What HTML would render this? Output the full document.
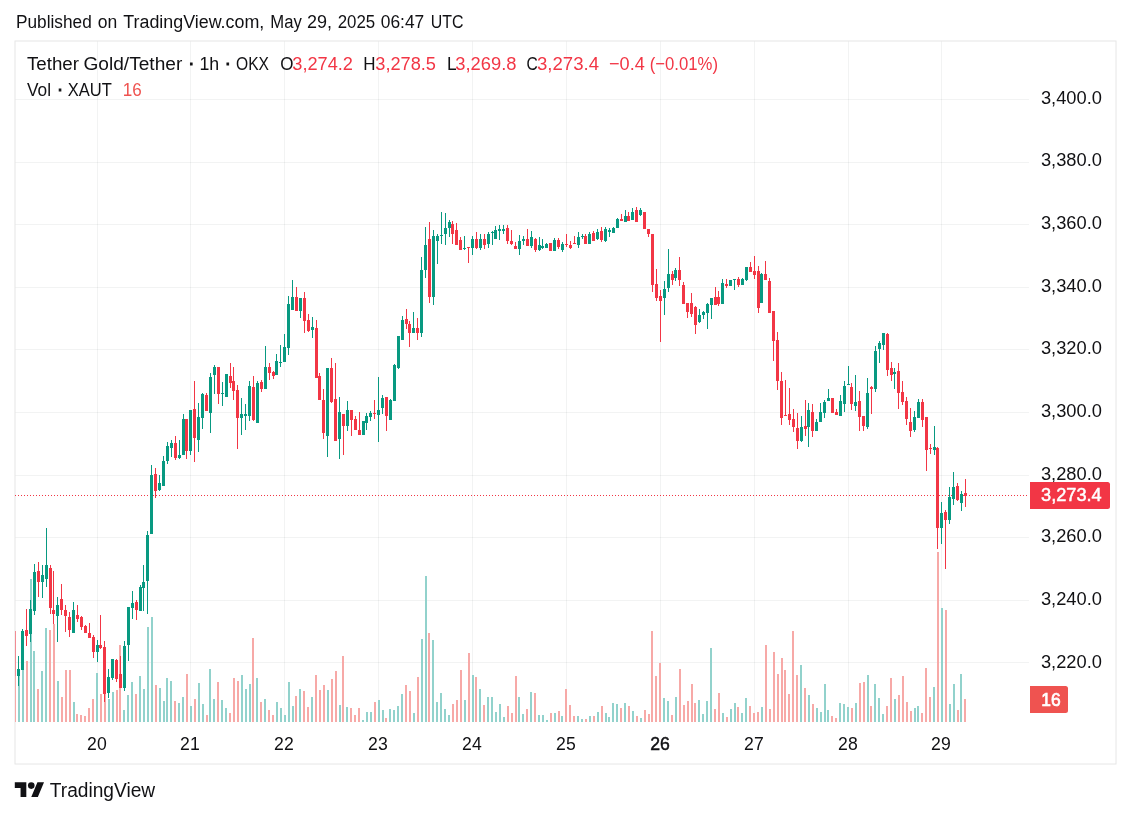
<!DOCTYPE html>
<html lang="en"><head><meta charset="utf-8"><title>XAUTUSDT chart</title>
<style>html,body{margin:0;padding:0;background:#fff}body{width:1131px;height:817px;overflow:hidden}svg{display:block}text{font-family:"Liberation Sans",sans-serif;font-size:18.3px;fill:#111114}.d{stroke:#111114;stroke-width:0.9px}.r{fill:#f23645}.v{fill:#ef5350}.w{fill:#fff;stroke:#fff;stroke-width:0.5px}.b{stroke:#111114;stroke-width:0.5px}.wb{fill:#fff;stroke:#fff;stroke-width:0.7px}</style></head><body>
<svg width="1131" height="817" viewBox="0 0 1131 817">
<rect width="1131" height="817" fill="#fff"/>
<g shape-rendering="crispEdges">
<rect x="15" y="99" width="1014" height="1" fill="#2a2e39" fill-opacity="0.06"/>
<rect x="15" y="162" width="1014" height="1" fill="#2a2e39" fill-opacity="0.06"/>
<rect x="15" y="224" width="1014" height="1" fill="#2a2e39" fill-opacity="0.06"/>
<rect x="15" y="287" width="1014" height="1" fill="#2a2e39" fill-opacity="0.06"/>
<rect x="15" y="349" width="1014" height="1" fill="#2a2e39" fill-opacity="0.06"/>
<rect x="15" y="412" width="1014" height="1" fill="#2a2e39" fill-opacity="0.06"/>
<rect x="15" y="475" width="1014" height="1" fill="#2a2e39" fill-opacity="0.06"/>
<rect x="15" y="537" width="1014" height="1" fill="#2a2e39" fill-opacity="0.06"/>
<rect x="15" y="600" width="1014" height="1" fill="#2a2e39" fill-opacity="0.06"/>
<rect x="15" y="662" width="1014" height="1" fill="#2a2e39" fill-opacity="0.06"/>
<rect x="97" y="41" width="1" height="681" fill="#2a2e39" fill-opacity="0.06"/>
<rect x="190" y="41" width="1" height="681" fill="#2a2e39" fill-opacity="0.06"/>
<rect x="284" y="41" width="1" height="681" fill="#2a2e39" fill-opacity="0.06"/>
<rect x="378" y="41" width="1" height="681" fill="#2a2e39" fill-opacity="0.06"/>
<rect x="472" y="41" width="1" height="681" fill="#2a2e39" fill-opacity="0.06"/>
<rect x="566" y="41" width="1" height="681" fill="#2a2e39" fill-opacity="0.06"/>
<rect x="660" y="41" width="1" height="681" fill="#2a2e39" fill-opacity="0.06"/>
<rect x="754" y="41" width="1" height="681" fill="#2a2e39" fill-opacity="0.06"/>
<rect x="848" y="41" width="1" height="681" fill="#2a2e39" fill-opacity="0.06"/>
<rect x="941" y="41" width="1" height="681" fill="#2a2e39" fill-opacity="0.06"/>
</g><rect x="15" y="41" width="1101" height="723" fill="none" stroke="#e6e6e6" stroke-width="1"/><g shape-rendering="crispEdges">
<g>
<rect x="15" y="631" width="1" height="91" fill="#f7a9a7"/>
<rect x="18" y="672" width="2" height="50" fill="#92d2cc"/>
<rect x="22" y="640" width="2" height="82" fill="#92d2cc"/>
<rect x="26" y="661" width="2" height="61" fill="#f7a9a7"/>
<rect x="30" y="579" width="2" height="143" fill="#92d2cc"/>
<rect x="33" y="651" width="2" height="71" fill="#92d2cc"/>
<rect x="37" y="689" width="2" height="33" fill="#f7a9a7"/>
<rect x="41" y="671" width="2" height="51" fill="#92d2cc"/>
<rect x="45" y="628" width="2" height="94" fill="#92d2cc"/>
<rect x="49" y="630" width="2" height="92" fill="#f7a9a7"/>
<rect x="53" y="624" width="2" height="98" fill="#f7a9a7"/>
<rect x="57" y="681" width="2" height="41" fill="#92d2cc"/>
<rect x="61" y="697" width="2" height="25" fill="#f7a9a7"/>
<rect x="65" y="670" width="2" height="52" fill="#f7a9a7"/>
<rect x="69" y="670" width="2" height="52" fill="#f7a9a7"/>
<rect x="73" y="702" width="2" height="20" fill="#92d2cc"/>
<rect x="76" y="714" width="2" height="8" fill="#f7a9a7"/>
<rect x="80" y="715" width="2" height="7" fill="#f7a9a7"/>
<rect x="84" y="716" width="2" height="6" fill="#f7a9a7"/>
<rect x="88" y="708" width="2" height="14" fill="#f7a9a7"/>
<rect x="92" y="699" width="2" height="23" fill="#f7a9a7"/>
<rect x="96" y="673" width="2" height="49" fill="#92d2cc"/>
<rect x="100" y="694" width="2" height="28" fill="#f7a9a7"/>
<rect x="104" y="690" width="2" height="32" fill="#f7a9a7"/>
<rect x="108" y="699" width="2" height="23" fill="#92d2cc"/>
<rect x="112" y="692" width="2" height="30" fill="#92d2cc"/>
<rect x="116" y="690" width="2" height="32" fill="#f7a9a7"/>
<rect x="119" y="645" width="2" height="77" fill="#f7a9a7"/>
<rect x="123" y="710" width="2" height="12" fill="#92d2cc"/>
<rect x="127" y="695" width="2" height="27" fill="#92d2cc"/>
<rect x="131" y="682" width="2" height="40" fill="#92d2cc"/>
<rect x="135" y="694" width="2" height="28" fill="#f7a9a7"/>
<rect x="139" y="676" width="2" height="46" fill="#92d2cc"/>
<rect x="143" y="689" width="2" height="33" fill="#92d2cc"/>
<rect x="147" y="627" width="2" height="95" fill="#92d2cc"/>
<rect x="151" y="617" width="2" height="105" fill="#92d2cc"/>
<rect x="155" y="685" width="2" height="37" fill="#f7a9a7"/>
<rect x="159" y="688" width="2" height="34" fill="#92d2cc"/>
<rect x="163" y="701" width="2" height="21" fill="#92d2cc"/>
<rect x="166" y="678" width="2" height="44" fill="#92d2cc"/>
<rect x="170" y="681" width="2" height="41" fill="#92d2cc"/>
<rect x="174" y="701" width="2" height="21" fill="#f7a9a7"/>
<rect x="178" y="703" width="2" height="19" fill="#92d2cc"/>
<rect x="182" y="697" width="2" height="25" fill="#92d2cc"/>
<rect x="186" y="674" width="2" height="48" fill="#f7a9a7"/>
<rect x="190" y="706" width="2" height="16" fill="#92d2cc"/>
<rect x="194" y="699" width="2" height="23" fill="#f7a9a7"/>
<rect x="198" y="683" width="2" height="39" fill="#92d2cc"/>
<rect x="202" y="704" width="2" height="18" fill="#92d2cc"/>
<rect x="206" y="715" width="2" height="7" fill="#f7a9a7"/>
<rect x="209" y="669" width="2" height="53" fill="#92d2cc"/>
<rect x="213" y="699" width="2" height="23" fill="#92d2cc"/>
<rect x="217" y="682" width="2" height="40" fill="#f7a9a7"/>
<rect x="221" y="700" width="2" height="22" fill="#92d2cc"/>
<rect x="225" y="708" width="2" height="14" fill="#92d2cc"/>
<rect x="229" y="713" width="2" height="9" fill="#f7a9a7"/>
<rect x="233" y="678" width="2" height="44" fill="#f7a9a7"/>
<rect x="237" y="681" width="2" height="41" fill="#f7a9a7"/>
<rect x="241" y="675" width="2" height="47" fill="#92d2cc"/>
<rect x="245" y="689" width="2" height="33" fill="#92d2cc"/>
<rect x="249" y="684" width="2" height="38" fill="#92d2cc"/>
<rect x="252" y="638" width="2" height="84" fill="#f7a9a7"/>
<rect x="256" y="678" width="2" height="44" fill="#92d2cc"/>
<rect x="260" y="702" width="2" height="20" fill="#f7a9a7"/>
<rect x="264" y="699" width="2" height="23" fill="#92d2cc"/>
<rect x="268" y="710" width="2" height="12" fill="#f7a9a7"/>
<rect x="272" y="715" width="2" height="7" fill="#f7a9a7"/>
<rect x="276" y="702" width="2" height="20" fill="#92d2cc"/>
<rect x="280" y="708" width="2" height="14" fill="#92d2cc"/>
<rect x="284" y="715" width="2" height="7" fill="#92d2cc"/>
<rect x="288" y="682" width="2" height="40" fill="#92d2cc"/>
<rect x="292" y="706" width="2" height="16" fill="#92d2cc"/>
<rect x="295" y="696" width="2" height="26" fill="#f7a9a7"/>
<rect x="299" y="689" width="2" height="33" fill="#92d2cc"/>
<rect x="303" y="691" width="2" height="31" fill="#f7a9a7"/>
<rect x="307" y="707" width="2" height="15" fill="#f7a9a7"/>
<rect x="311" y="697" width="2" height="25" fill="#92d2cc"/>
<rect x="315" y="675" width="2" height="47" fill="#f7a9a7"/>
<rect x="319" y="690" width="2" height="32" fill="#f7a9a7"/>
<rect x="323" y="685" width="2" height="37" fill="#f7a9a7"/>
<rect x="327" y="690" width="2" height="32" fill="#92d2cc"/>
<rect x="331" y="679" width="2" height="43" fill="#f7a9a7"/>
<rect x="335" y="671" width="2" height="51" fill="#f7a9a7"/>
<rect x="339" y="705" width="2" height="17" fill="#92d2cc"/>
<rect x="342" y="656" width="2" height="66" fill="#f7a9a7"/>
<rect x="346" y="707" width="2" height="15" fill="#92d2cc"/>
<rect x="350" y="708" width="2" height="14" fill="#f7a9a7"/>
<rect x="354" y="715" width="2" height="7" fill="#f7a9a7"/>
<rect x="358" y="708" width="2" height="14" fill="#f7a9a7"/>
<rect x="362" y="720" width="2" height="2" fill="#92d2cc"/>
<rect x="366" y="712" width="2" height="10" fill="#92d2cc"/>
<rect x="370" y="712" width="2" height="10" fill="#92d2cc"/>
<rect x="374" y="702" width="2" height="20" fill="#f7a9a7"/>
<rect x="378" y="700" width="2" height="22" fill="#92d2cc"/>
<rect x="382" y="710" width="2" height="12" fill="#92d2cc"/>
<rect x="385" y="718" width="2" height="4" fill="#f7a9a7"/>
<rect x="389" y="709" width="2" height="13" fill="#92d2cc"/>
<rect x="393" y="710" width="2" height="12" fill="#92d2cc"/>
<rect x="397" y="706" width="2" height="16" fill="#92d2cc"/>
<rect x="401" y="694" width="2" height="28" fill="#92d2cc"/>
<rect x="405" y="685" width="2" height="37" fill="#f7a9a7"/>
<rect x="409" y="691" width="2" height="31" fill="#f7a9a7"/>
<rect x="413" y="713" width="2" height="9" fill="#92d2cc"/>
<rect x="417" y="677" width="2" height="45" fill="#f7a9a7"/>
<rect x="421" y="639" width="2" height="83" fill="#92d2cc"/>
<rect x="425" y="576" width="2" height="146" fill="#92d2cc"/>
<rect x="428" y="633" width="2" height="89" fill="#f7a9a7"/>
<rect x="432" y="640" width="2" height="82" fill="#92d2cc"/>
<rect x="436" y="702" width="2" height="20" fill="#92d2cc"/>
<rect x="440" y="693" width="2" height="29" fill="#92d2cc"/>
<rect x="444" y="709" width="2" height="13" fill="#92d2cc"/>
<rect x="448" y="715" width="2" height="7" fill="#92d2cc"/>
<rect x="452" y="704" width="2" height="18" fill="#f7a9a7"/>
<rect x="456" y="700" width="2" height="22" fill="#f7a9a7"/>
<rect x="460" y="670" width="2" height="52" fill="#f7a9a7"/>
<rect x="464" y="700" width="2" height="22" fill="#92d2cc"/>
<rect x="468" y="653" width="2" height="69" fill="#f7a9a7"/>
<rect x="472" y="675" width="2" height="47" fill="#92d2cc"/>
<rect x="475" y="677" width="2" height="45" fill="#f7a9a7"/>
<rect x="479" y="689" width="2" height="33" fill="#92d2cc"/>
<rect x="483" y="705" width="2" height="17" fill="#f7a9a7"/>
<rect x="487" y="697" width="2" height="25" fill="#92d2cc"/>
<rect x="491" y="697" width="2" height="25" fill="#92d2cc"/>
<rect x="495" y="712" width="2" height="10" fill="#92d2cc"/>
<rect x="499" y="704" width="2" height="18" fill="#92d2cc"/>
<rect x="503" y="717" width="2" height="5" fill="#92d2cc"/>
<rect x="507" y="706" width="2" height="16" fill="#f7a9a7"/>
<rect x="511" y="713" width="2" height="9" fill="#f7a9a7"/>
<rect x="515" y="676" width="2" height="46" fill="#f7a9a7"/>
<rect x="518" y="697" width="2" height="25" fill="#92d2cc"/>
<rect x="522" y="714" width="2" height="8" fill="#92d2cc"/>
<rect x="526" y="709" width="2" height="13" fill="#f7a9a7"/>
<rect x="530" y="692" width="2" height="30" fill="#92d2cc"/>
<rect x="534" y="693" width="2" height="29" fill="#f7a9a7"/>
<rect x="538" y="715" width="2" height="7" fill="#92d2cc"/>
<rect x="542" y="715" width="2" height="7" fill="#92d2cc"/>
<rect x="546" y="720" width="2" height="2" fill="#92d2cc"/>
<rect x="550" y="713" width="2" height="9" fill="#f7a9a7"/>
<rect x="554" y="713" width="2" height="9" fill="#92d2cc"/>
<rect x="558" y="711" width="2" height="11" fill="#f7a9a7"/>
<rect x="561" y="716" width="2" height="6" fill="#92d2cc"/>
<rect x="565" y="689" width="2" height="33" fill="#f7a9a7"/>
<rect x="569" y="705" width="2" height="17" fill="#f7a9a7"/>
<rect x="573" y="716" width="2" height="6" fill="#f7a9a7"/>
<rect x="577" y="716" width="2" height="6" fill="#92d2cc"/>
<rect x="581" y="719" width="2" height="3" fill="#92d2cc"/>
<rect x="585" y="719" width="2" height="3" fill="#f7a9a7"/>
<rect x="589" y="716" width="2" height="6" fill="#92d2cc"/>
<rect x="593" y="716" width="2" height="6" fill="#f7a9a7"/>
<rect x="597" y="712" width="2" height="10" fill="#92d2cc"/>
<rect x="601" y="706" width="2" height="16" fill="#f7a9a7"/>
<rect x="605" y="713" width="2" height="9" fill="#92d2cc"/>
<rect x="608" y="717" width="2" height="5" fill="#92d2cc"/>
<rect x="612" y="703" width="2" height="19" fill="#92d2cc"/>
<rect x="616" y="704" width="2" height="18" fill="#92d2cc"/>
<rect x="620" y="708" width="2" height="14" fill="#f7a9a7"/>
<rect x="624" y="703" width="2" height="19" fill="#92d2cc"/>
<rect x="628" y="706" width="2" height="16" fill="#f7a9a7"/>
<rect x="632" y="711" width="2" height="11" fill="#92d2cc"/>
<rect x="636" y="716" width="2" height="6" fill="#f7a9a7"/>
<rect x="640" y="718" width="2" height="4" fill="#92d2cc"/>
<rect x="644" y="710" width="2" height="12" fill="#f7a9a7"/>
<rect x="648" y="714" width="2" height="8" fill="#f7a9a7"/>
<rect x="651" y="631" width="2" height="91" fill="#f7a9a7"/>
<rect x="655" y="676" width="2" height="46" fill="#f7a9a7"/>
<rect x="659" y="663" width="2" height="59" fill="#f7a9a7"/>
<rect x="663" y="698" width="2" height="24" fill="#92d2cc"/>
<rect x="667" y="701" width="2" height="21" fill="#92d2cc"/>
<rect x="671" y="715" width="2" height="7" fill="#f7a9a7"/>
<rect x="675" y="697" width="2" height="25" fill="#92d2cc"/>
<rect x="679" y="669" width="2" height="53" fill="#f7a9a7"/>
<rect x="683" y="705" width="2" height="17" fill="#f7a9a7"/>
<rect x="687" y="701" width="2" height="21" fill="#f7a9a7"/>
<rect x="691" y="684" width="2" height="38" fill="#f7a9a7"/>
<rect x="694" y="703" width="2" height="19" fill="#f7a9a7"/>
<rect x="698" y="700" width="2" height="22" fill="#92d2cc"/>
<rect x="702" y="714" width="2" height="8" fill="#92d2cc"/>
<rect x="706" y="701" width="2" height="21" fill="#92d2cc"/>
<rect x="710" y="648" width="2" height="74" fill="#92d2cc"/>
<rect x="714" y="709" width="2" height="13" fill="#f7a9a7"/>
<rect x="718" y="693" width="2" height="29" fill="#f7a9a7"/>
<rect x="722" y="713" width="2" height="9" fill="#92d2cc"/>
<rect x="726" y="717" width="2" height="5" fill="#f7a9a7"/>
<rect x="730" y="709" width="2" height="13" fill="#92d2cc"/>
<rect x="734" y="703" width="2" height="19" fill="#92d2cc"/>
<rect x="737" y="707" width="2" height="15" fill="#f7a9a7"/>
<rect x="741" y="713" width="2" height="9" fill="#92d2cc"/>
<rect x="745" y="698" width="2" height="24" fill="#92d2cc"/>
<rect x="749" y="706" width="2" height="16" fill="#f7a9a7"/>
<rect x="753" y="713" width="2" height="9" fill="#f7a9a7"/>
<rect x="757" y="712" width="2" height="10" fill="#f7a9a7"/>
<rect x="761" y="707" width="2" height="15" fill="#92d2cc"/>
<rect x="765" y="645" width="2" height="77" fill="#f7a9a7"/>
<rect x="769" y="709" width="2" height="13" fill="#f7a9a7"/>
<rect x="773" y="652" width="2" height="70" fill="#f7a9a7"/>
<rect x="777" y="674" width="2" height="48" fill="#f7a9a7"/>
<rect x="781" y="658" width="2" height="64" fill="#f7a9a7"/>
<rect x="784" y="670" width="2" height="52" fill="#f7a9a7"/>
<rect x="788" y="694" width="2" height="28" fill="#f7a9a7"/>
<rect x="792" y="631" width="2" height="91" fill="#f7a9a7"/>
<rect x="796" y="675" width="2" height="47" fill="#f7a9a7"/>
<rect x="800" y="665" width="2" height="57" fill="#92d2cc"/>
<rect x="804" y="688" width="2" height="34" fill="#f7a9a7"/>
<rect x="808" y="695" width="2" height="27" fill="#92d2cc"/>
<rect x="812" y="704" width="2" height="18" fill="#f7a9a7"/>
<rect x="816" y="708" width="2" height="14" fill="#92d2cc"/>
<rect x="820" y="712" width="2" height="10" fill="#92d2cc"/>
<rect x="824" y="684" width="2" height="38" fill="#92d2cc"/>
<rect x="827" y="710" width="2" height="12" fill="#92d2cc"/>
<rect x="831" y="716" width="2" height="6" fill="#f7a9a7"/>
<rect x="835" y="718" width="2" height="4" fill="#f7a9a7"/>
<rect x="839" y="703" width="2" height="19" fill="#92d2cc"/>
<rect x="843" y="704" width="2" height="18" fill="#92d2cc"/>
<rect x="847" y="707" width="2" height="15" fill="#92d2cc"/>
<rect x="851" y="708" width="2" height="14" fill="#f7a9a7"/>
<rect x="855" y="703" width="2" height="19" fill="#92d2cc"/>
<rect x="859" y="683" width="2" height="39" fill="#f7a9a7"/>
<rect x="863" y="682" width="2" height="40" fill="#f7a9a7"/>
<rect x="867" y="675" width="2" height="47" fill="#92d2cc"/>
<rect x="870" y="706" width="2" height="16" fill="#f7a9a7"/>
<rect x="874" y="684" width="2" height="38" fill="#92d2cc"/>
<rect x="878" y="698" width="2" height="24" fill="#92d2cc"/>
<rect x="882" y="714" width="2" height="8" fill="#92d2cc"/>
<rect x="886" y="706" width="2" height="16" fill="#f7a9a7"/>
<rect x="890" y="678" width="2" height="44" fill="#f7a9a7"/>
<rect x="894" y="699" width="2" height="23" fill="#92d2cc"/>
<rect x="898" y="695" width="2" height="27" fill="#f7a9a7"/>
<rect x="902" y="676" width="2" height="46" fill="#f7a9a7"/>
<rect x="906" y="702" width="2" height="20" fill="#f7a9a7"/>
<rect x="910" y="711" width="2" height="11" fill="#f7a9a7"/>
<rect x="914" y="708" width="2" height="14" fill="#92d2cc"/>
<rect x="917" y="706" width="2" height="16" fill="#92d2cc"/>
<rect x="921" y="713" width="2" height="9" fill="#f7a9a7"/>
<rect x="925" y="668" width="2" height="54" fill="#f7a9a7"/>
<rect x="929" y="697" width="2" height="25" fill="#f7a9a7"/>
<rect x="933" y="687" width="2" height="35" fill="#92d2cc"/>
<rect x="937" y="552" width="2" height="170" fill="#f7a9a7"/>
<rect x="941" y="608" width="2" height="114" fill="#92d2cc"/>
<rect x="945" y="610" width="2" height="112" fill="#f7a9a7"/>
<rect x="949" y="704" width="2" height="18" fill="#92d2cc"/>
<rect x="953" y="684" width="2" height="38" fill="#92d2cc"/>
<rect x="957" y="710" width="2" height="12" fill="#f7a9a7"/>
<rect x="960" y="674" width="2" height="48" fill="#92d2cc"/>
<rect x="964" y="699" width="2" height="23" fill="#f7a9a7"/>
</g>
<rect x="15" y="631" width="1" height="45" fill="#f28b93"/>
<g fill="#f23645"><rect x="15" y="495" width="1" height="1"/><rect x="18" y="495" width="1" height="1"/><rect x="21" y="495" width="1" height="1"/><rect x="24" y="495" width="1" height="1"/><rect x="27" y="495" width="1" height="1"/><rect x="30" y="495" width="1" height="1"/><rect x="33" y="495" width="1" height="1"/><rect x="36" y="495" width="1" height="1"/><rect x="39" y="495" width="1" height="1"/><rect x="42" y="495" width="1" height="1"/><rect x="45" y="495" width="1" height="1"/><rect x="48" y="495" width="1" height="1"/><rect x="51" y="495" width="1" height="1"/><rect x="54" y="495" width="1" height="1"/><rect x="57" y="495" width="1" height="1"/><rect x="60" y="495" width="1" height="1"/><rect x="63" y="495" width="1" height="1"/><rect x="66" y="495" width="1" height="1"/><rect x="69" y="495" width="1" height="1"/><rect x="72" y="495" width="1" height="1"/><rect x="75" y="495" width="1" height="1"/><rect x="78" y="495" width="1" height="1"/><rect x="81" y="495" width="1" height="1"/><rect x="84" y="495" width="1" height="1"/><rect x="87" y="495" width="1" height="1"/><rect x="90" y="495" width="1" height="1"/><rect x="93" y="495" width="1" height="1"/><rect x="96" y="495" width="1" height="1"/><rect x="99" y="495" width="1" height="1"/><rect x="102" y="495" width="1" height="1"/><rect x="105" y="495" width="1" height="1"/><rect x="108" y="495" width="1" height="1"/><rect x="111" y="495" width="1" height="1"/><rect x="114" y="495" width="1" height="1"/><rect x="117" y="495" width="1" height="1"/><rect x="120" y="495" width="1" height="1"/><rect x="123" y="495" width="1" height="1"/><rect x="126" y="495" width="1" height="1"/><rect x="129" y="495" width="1" height="1"/><rect x="132" y="495" width="1" height="1"/><rect x="135" y="495" width="1" height="1"/><rect x="138" y="495" width="1" height="1"/><rect x="141" y="495" width="1" height="1"/><rect x="144" y="495" width="1" height="1"/><rect x="147" y="495" width="1" height="1"/><rect x="150" y="495" width="1" height="1"/><rect x="153" y="495" width="1" height="1"/><rect x="156" y="495" width="1" height="1"/><rect x="159" y="495" width="1" height="1"/><rect x="162" y="495" width="1" height="1"/><rect x="165" y="495" width="1" height="1"/><rect x="168" y="495" width="1" height="1"/><rect x="171" y="495" width="1" height="1"/><rect x="174" y="495" width="1" height="1"/><rect x="177" y="495" width="1" height="1"/><rect x="180" y="495" width="1" height="1"/><rect x="183" y="495" width="1" height="1"/><rect x="186" y="495" width="1" height="1"/><rect x="189" y="495" width="1" height="1"/><rect x="192" y="495" width="1" height="1"/><rect x="195" y="495" width="1" height="1"/><rect x="198" y="495" width="1" height="1"/><rect x="201" y="495" width="1" height="1"/><rect x="204" y="495" width="1" height="1"/><rect x="207" y="495" width="1" height="1"/><rect x="210" y="495" width="1" height="1"/><rect x="213" y="495" width="1" height="1"/><rect x="216" y="495" width="1" height="1"/><rect x="219" y="495" width="1" height="1"/><rect x="222" y="495" width="1" height="1"/><rect x="225" y="495" width="1" height="1"/><rect x="228" y="495" width="1" height="1"/><rect x="231" y="495" width="1" height="1"/><rect x="234" y="495" width="1" height="1"/><rect x="237" y="495" width="1" height="1"/><rect x="240" y="495" width="1" height="1"/><rect x="243" y="495" width="1" height="1"/><rect x="246" y="495" width="1" height="1"/><rect x="249" y="495" width="1" height="1"/><rect x="252" y="495" width="1" height="1"/><rect x="255" y="495" width="1" height="1"/><rect x="258" y="495" width="1" height="1"/><rect x="261" y="495" width="1" height="1"/><rect x="264" y="495" width="1" height="1"/><rect x="267" y="495" width="1" height="1"/><rect x="270" y="495" width="1" height="1"/><rect x="273" y="495" width="1" height="1"/><rect x="276" y="495" width="1" height="1"/><rect x="279" y="495" width="1" height="1"/><rect x="282" y="495" width="1" height="1"/><rect x="285" y="495" width="1" height="1"/><rect x="288" y="495" width="1" height="1"/><rect x="291" y="495" width="1" height="1"/><rect x="294" y="495" width="1" height="1"/><rect x="297" y="495" width="1" height="1"/><rect x="300" y="495" width="1" height="1"/><rect x="303" y="495" width="1" height="1"/><rect x="306" y="495" width="1" height="1"/><rect x="309" y="495" width="1" height="1"/><rect x="312" y="495" width="1" height="1"/><rect x="315" y="495" width="1" height="1"/><rect x="318" y="495" width="1" height="1"/><rect x="321" y="495" width="1" height="1"/><rect x="324" y="495" width="1" height="1"/><rect x="327" y="495" width="1" height="1"/><rect x="330" y="495" width="1" height="1"/><rect x="333" y="495" width="1" height="1"/><rect x="336" y="495" width="1" height="1"/><rect x="339" y="495" width="1" height="1"/><rect x="342" y="495" width="1" height="1"/><rect x="345" y="495" width="1" height="1"/><rect x="348" y="495" width="1" height="1"/><rect x="351" y="495" width="1" height="1"/><rect x="354" y="495" width="1" height="1"/><rect x="357" y="495" width="1" height="1"/><rect x="360" y="495" width="1" height="1"/><rect x="363" y="495" width="1" height="1"/><rect x="366" y="495" width="1" height="1"/><rect x="369" y="495" width="1" height="1"/><rect x="372" y="495" width="1" height="1"/><rect x="375" y="495" width="1" height="1"/><rect x="378" y="495" width="1" height="1"/><rect x="381" y="495" width="1" height="1"/><rect x="384" y="495" width="1" height="1"/><rect x="387" y="495" width="1" height="1"/><rect x="390" y="495" width="1" height="1"/><rect x="393" y="495" width="1" height="1"/><rect x="396" y="495" width="1" height="1"/><rect x="399" y="495" width="1" height="1"/><rect x="402" y="495" width="1" height="1"/><rect x="405" y="495" width="1" height="1"/><rect x="408" y="495" width="1" height="1"/><rect x="411" y="495" width="1" height="1"/><rect x="414" y="495" width="1" height="1"/><rect x="417" y="495" width="1" height="1"/><rect x="420" y="495" width="1" height="1"/><rect x="423" y="495" width="1" height="1"/><rect x="426" y="495" width="1" height="1"/><rect x="429" y="495" width="1" height="1"/><rect x="432" y="495" width="1" height="1"/><rect x="435" y="495" width="1" height="1"/><rect x="438" y="495" width="1" height="1"/><rect x="441" y="495" width="1" height="1"/><rect x="444" y="495" width="1" height="1"/><rect x="447" y="495" width="1" height="1"/><rect x="450" y="495" width="1" height="1"/><rect x="453" y="495" width="1" height="1"/><rect x="456" y="495" width="1" height="1"/><rect x="459" y="495" width="1" height="1"/><rect x="462" y="495" width="1" height="1"/><rect x="465" y="495" width="1" height="1"/><rect x="468" y="495" width="1" height="1"/><rect x="471" y="495" width="1" height="1"/><rect x="474" y="495" width="1" height="1"/><rect x="477" y="495" width="1" height="1"/><rect x="480" y="495" width="1" height="1"/><rect x="483" y="495" width="1" height="1"/><rect x="486" y="495" width="1" height="1"/><rect x="489" y="495" width="1" height="1"/><rect x="492" y="495" width="1" height="1"/><rect x="495" y="495" width="1" height="1"/><rect x="498" y="495" width="1" height="1"/><rect x="501" y="495" width="1" height="1"/><rect x="504" y="495" width="1" height="1"/><rect x="507" y="495" width="1" height="1"/><rect x="510" y="495" width="1" height="1"/><rect x="513" y="495" width="1" height="1"/><rect x="516" y="495" width="1" height="1"/><rect x="519" y="495" width="1" height="1"/><rect x="522" y="495" width="1" height="1"/><rect x="525" y="495" width="1" height="1"/><rect x="528" y="495" width="1" height="1"/><rect x="531" y="495" width="1" height="1"/><rect x="534" y="495" width="1" height="1"/><rect x="537" y="495" width="1" height="1"/><rect x="540" y="495" width="1" height="1"/><rect x="543" y="495" width="1" height="1"/><rect x="546" y="495" width="1" height="1"/><rect x="549" y="495" width="1" height="1"/><rect x="552" y="495" width="1" height="1"/><rect x="555" y="495" width="1" height="1"/><rect x="558" y="495" width="1" height="1"/><rect x="561" y="495" width="1" height="1"/><rect x="564" y="495" width="1" height="1"/><rect x="567" y="495" width="1" height="1"/><rect x="570" y="495" width="1" height="1"/><rect x="573" y="495" width="1" height="1"/><rect x="576" y="495" width="1" height="1"/><rect x="579" y="495" width="1" height="1"/><rect x="582" y="495" width="1" height="1"/><rect x="585" y="495" width="1" height="1"/><rect x="588" y="495" width="1" height="1"/><rect x="591" y="495" width="1" height="1"/><rect x="594" y="495" width="1" height="1"/><rect x="597" y="495" width="1" height="1"/><rect x="600" y="495" width="1" height="1"/><rect x="603" y="495" width="1" height="1"/><rect x="606" y="495" width="1" height="1"/><rect x="609" y="495" width="1" height="1"/><rect x="612" y="495" width="1" height="1"/><rect x="615" y="495" width="1" height="1"/><rect x="618" y="495" width="1" height="1"/><rect x="621" y="495" width="1" height="1"/><rect x="624" y="495" width="1" height="1"/><rect x="627" y="495" width="1" height="1"/><rect x="630" y="495" width="1" height="1"/><rect x="633" y="495" width="1" height="1"/><rect x="636" y="495" width="1" height="1"/><rect x="639" y="495" width="1" height="1"/><rect x="642" y="495" width="1" height="1"/><rect x="645" y="495" width="1" height="1"/><rect x="648" y="495" width="1" height="1"/><rect x="651" y="495" width="1" height="1"/><rect x="654" y="495" width="1" height="1"/><rect x="657" y="495" width="1" height="1"/><rect x="660" y="495" width="1" height="1"/><rect x="663" y="495" width="1" height="1"/><rect x="666" y="495" width="1" height="1"/><rect x="669" y="495" width="1" height="1"/><rect x="672" y="495" width="1" height="1"/><rect x="675" y="495" width="1" height="1"/><rect x="678" y="495" width="1" height="1"/><rect x="681" y="495" width="1" height="1"/><rect x="684" y="495" width="1" height="1"/><rect x="687" y="495" width="1" height="1"/><rect x="690" y="495" width="1" height="1"/><rect x="693" y="495" width="1" height="1"/><rect x="696" y="495" width="1" height="1"/><rect x="699" y="495" width="1" height="1"/><rect x="702" y="495" width="1" height="1"/><rect x="705" y="495" width="1" height="1"/><rect x="708" y="495" width="1" height="1"/><rect x="711" y="495" width="1" height="1"/><rect x="714" y="495" width="1" height="1"/><rect x="717" y="495" width="1" height="1"/><rect x="720" y="495" width="1" height="1"/><rect x="723" y="495" width="1" height="1"/><rect x="726" y="495" width="1" height="1"/><rect x="729" y="495" width="1" height="1"/><rect x="732" y="495" width="1" height="1"/><rect x="735" y="495" width="1" height="1"/><rect x="738" y="495" width="1" height="1"/><rect x="741" y="495" width="1" height="1"/><rect x="744" y="495" width="1" height="1"/><rect x="747" y="495" width="1" height="1"/><rect x="750" y="495" width="1" height="1"/><rect x="753" y="495" width="1" height="1"/><rect x="756" y="495" width="1" height="1"/><rect x="759" y="495" width="1" height="1"/><rect x="762" y="495" width="1" height="1"/><rect x="765" y="495" width="1" height="1"/><rect x="768" y="495" width="1" height="1"/><rect x="771" y="495" width="1" height="1"/><rect x="774" y="495" width="1" height="1"/><rect x="777" y="495" width="1" height="1"/><rect x="780" y="495" width="1" height="1"/><rect x="783" y="495" width="1" height="1"/><rect x="786" y="495" width="1" height="1"/><rect x="789" y="495" width="1" height="1"/><rect x="792" y="495" width="1" height="1"/><rect x="795" y="495" width="1" height="1"/><rect x="798" y="495" width="1" height="1"/><rect x="801" y="495" width="1" height="1"/><rect x="804" y="495" width="1" height="1"/><rect x="807" y="495" width="1" height="1"/><rect x="810" y="495" width="1" height="1"/><rect x="813" y="495" width="1" height="1"/><rect x="816" y="495" width="1" height="1"/><rect x="819" y="495" width="1" height="1"/><rect x="822" y="495" width="1" height="1"/><rect x="825" y="495" width="1" height="1"/><rect x="828" y="495" width="1" height="1"/><rect x="831" y="495" width="1" height="1"/><rect x="834" y="495" width="1" height="1"/><rect x="837" y="495" width="1" height="1"/><rect x="840" y="495" width="1" height="1"/><rect x="843" y="495" width="1" height="1"/><rect x="846" y="495" width="1" height="1"/><rect x="849" y="495" width="1" height="1"/><rect x="852" y="495" width="1" height="1"/><rect x="855" y="495" width="1" height="1"/><rect x="858" y="495" width="1" height="1"/><rect x="861" y="495" width="1" height="1"/><rect x="864" y="495" width="1" height="1"/><rect x="867" y="495" width="1" height="1"/><rect x="870" y="495" width="1" height="1"/><rect x="873" y="495" width="1" height="1"/><rect x="876" y="495" width="1" height="1"/><rect x="879" y="495" width="1" height="1"/><rect x="882" y="495" width="1" height="1"/><rect x="885" y="495" width="1" height="1"/><rect x="888" y="495" width="1" height="1"/><rect x="891" y="495" width="1" height="1"/><rect x="894" y="495" width="1" height="1"/><rect x="897" y="495" width="1" height="1"/><rect x="900" y="495" width="1" height="1"/><rect x="903" y="495" width="1" height="1"/><rect x="906" y="495" width="1" height="1"/><rect x="909" y="495" width="1" height="1"/><rect x="912" y="495" width="1" height="1"/><rect x="915" y="495" width="1" height="1"/><rect x="918" y="495" width="1" height="1"/><rect x="921" y="495" width="1" height="1"/><rect x="924" y="495" width="1" height="1"/><rect x="927" y="495" width="1" height="1"/><rect x="930" y="495" width="1" height="1"/><rect x="933" y="495" width="1" height="1"/><rect x="936" y="495" width="1" height="1"/><rect x="939" y="495" width="1" height="1"/><rect x="942" y="495" width="1" height="1"/><rect x="945" y="495" width="1" height="1"/><rect x="948" y="495" width="1" height="1"/><rect x="951" y="495" width="1" height="1"/><rect x="954" y="495" width="1" height="1"/><rect x="957" y="495" width="1" height="1"/><rect x="960" y="495" width="1" height="1"/><rect x="963" y="495" width="1" height="1"/><rect x="966" y="495" width="1" height="1"/><rect x="969" y="495" width="1" height="1"/><rect x="972" y="495" width="1" height="1"/><rect x="975" y="495" width="1" height="1"/><rect x="978" y="495" width="1" height="1"/><rect x="981" y="495" width="1" height="1"/><rect x="984" y="495" width="1" height="1"/><rect x="987" y="495" width="1" height="1"/><rect x="990" y="495" width="1" height="1"/><rect x="993" y="495" width="1" height="1"/><rect x="996" y="495" width="1" height="1"/><rect x="999" y="495" width="1" height="1"/><rect x="1002" y="495" width="1" height="1"/><rect x="1005" y="495" width="1" height="1"/><rect x="1008" y="495" width="1" height="1"/><rect x="1011" y="495" width="1" height="1"/><rect x="1014" y="495" width="1" height="1"/><rect x="1017" y="495" width="1" height="1"/><rect x="1020" y="495" width="1" height="1"/><rect x="1023" y="495" width="1" height="1"/><rect x="1026" y="495" width="1" height="1"/></g>
<g>
<rect x="18" y="656" width="1" height="30" fill="#089981"/>
<rect x="17" y="669" width="3" height="7" fill="#089981"/>
<rect x="22" y="629" width="1" height="41" fill="#089981"/>
<rect x="21" y="631" width="3" height="39" fill="#089981"/>
<rect x="26" y="609" width="1" height="37" fill="#f23645"/>
<rect x="25" y="630" width="3" height="6" fill="#f23645"/>
<rect x="30" y="600" width="1" height="42" fill="#089981"/>
<rect x="29" y="609" width="3" height="25" fill="#089981"/>
<rect x="34" y="564" width="1" height="51" fill="#089981"/>
<rect x="33" y="572" width="3" height="39" fill="#089981"/>
<rect x="38" y="562" width="1" height="35" fill="#f23645"/>
<rect x="37" y="571" width="3" height="11" fill="#f23645"/>
<rect x="42" y="565" width="1" height="33" fill="#089981"/>
<rect x="41" y="575" width="3" height="7" fill="#089981"/>
<rect x="46" y="528" width="1" height="59" fill="#089981"/>
<rect x="45" y="565" width="3" height="14" fill="#089981"/>
<rect x="50" y="565" width="1" height="49" fill="#f23645"/>
<rect x="49" y="568" width="3" height="40" fill="#f23645"/>
<rect x="53" y="571" width="1" height="53" fill="#f23645"/>
<rect x="52" y="610" width="3" height="4" fill="#f23645"/>
<rect x="57" y="597" width="1" height="45" fill="#089981"/>
<rect x="56" y="605" width="3" height="11" fill="#089981"/>
<rect x="61" y="584" width="1" height="31" fill="#f23645"/>
<rect x="60" y="599" width="3" height="11" fill="#f23645"/>
<rect x="65" y="605" width="1" height="27" fill="#f23645"/>
<rect x="64" y="610" width="3" height="6" fill="#f23645"/>
<rect x="69" y="612" width="1" height="25" fill="#f23645"/>
<rect x="68" y="617" width="3" height="13" fill="#f23645"/>
<rect x="73" y="602" width="1" height="31" fill="#089981"/>
<rect x="72" y="610" width="3" height="23" fill="#089981"/>
<rect x="77" y="605" width="1" height="17" fill="#f23645"/>
<rect x="76" y="615" width="3" height="4" fill="#f23645"/>
<rect x="81" y="616" width="1" height="14" fill="#f23645"/>
<rect x="80" y="617" width="3" height="10" fill="#f23645"/>
<rect x="85" y="625" width="1" height="8" fill="#f23645"/>
<rect x="84" y="626" width="3" height="7" fill="#f23645"/>
<rect x="89" y="623" width="1" height="15" fill="#f23645"/>
<rect x="88" y="633" width="3" height="5" fill="#f23645"/>
<rect x="93" y="635" width="1" height="23" fill="#f23645"/>
<rect x="92" y="637" width="3" height="15" fill="#f23645"/>
<rect x="97" y="640" width="1" height="22" fill="#089981"/>
<rect x="96" y="645" width="3" height="7" fill="#089981"/>
<rect x="100" y="615" width="1" height="34" fill="#f23645"/>
<rect x="99" y="645" width="3" height="3" fill="#f23645"/>
<rect x="104" y="641" width="1" height="61" fill="#f23645"/>
<rect x="103" y="647" width="3" height="47" fill="#f23645"/>
<rect x="108" y="669" width="1" height="29" fill="#089981"/>
<rect x="107" y="677" width="3" height="16" fill="#089981"/>
<rect x="112" y="659" width="1" height="21" fill="#089981"/>
<rect x="111" y="659" width="3" height="19" fill="#089981"/>
<rect x="116" y="659" width="1" height="23" fill="#f23645"/>
<rect x="115" y="660" width="3" height="19" fill="#f23645"/>
<rect x="120" y="656" width="1" height="32" fill="#f23645"/>
<rect x="119" y="674" width="3" height="14" fill="#f23645"/>
<rect x="124" y="641" width="1" height="50" fill="#089981"/>
<rect x="123" y="646" width="3" height="42" fill="#089981"/>
<rect x="128" y="607" width="1" height="54" fill="#089981"/>
<rect x="127" y="607" width="3" height="38" fill="#089981"/>
<rect x="132" y="591" width="1" height="28" fill="#089981"/>
<rect x="131" y="603" width="3" height="5" fill="#089981"/>
<rect x="136" y="600" width="1" height="20" fill="#f23645"/>
<rect x="135" y="602" width="3" height="8" fill="#f23645"/>
<rect x="140" y="585" width="1" height="26" fill="#089981"/>
<rect x="139" y="587" width="3" height="24" fill="#089981"/>
<rect x="143" y="565" width="1" height="46" fill="#089981"/>
<rect x="142" y="582" width="3" height="6" fill="#089981"/>
<rect x="147" y="531" width="1" height="83" fill="#089981"/>
<rect x="146" y="535" width="3" height="46" fill="#089981"/>
<rect x="151" y="465" width="1" height="69" fill="#089981"/>
<rect x="150" y="475" width="3" height="59" fill="#089981"/>
<rect x="155" y="468" width="1" height="30" fill="#f23645"/>
<rect x="154" y="474" width="3" height="17" fill="#f23645"/>
<rect x="159" y="475" width="1" height="16" fill="#089981"/>
<rect x="158" y="483" width="3" height="7" fill="#089981"/>
<rect x="163" y="456" width="1" height="30" fill="#089981"/>
<rect x="162" y="461" width="3" height="25" fill="#089981"/>
<rect x="167" y="442" width="1" height="22" fill="#089981"/>
<rect x="166" y="446" width="3" height="15" fill="#089981"/>
<rect x="171" y="440" width="1" height="17" fill="#089981"/>
<rect x="170" y="443" width="3" height="5" fill="#089981"/>
<rect x="175" y="436" width="1" height="24" fill="#f23645"/>
<rect x="174" y="443" width="3" height="15" fill="#f23645"/>
<rect x="179" y="440" width="1" height="19" fill="#089981"/>
<rect x="178" y="455" width="3" height="3" fill="#089981"/>
<rect x="183" y="414" width="1" height="41" fill="#089981"/>
<rect x="182" y="419" width="3" height="36" fill="#089981"/>
<rect x="186" y="419" width="1" height="40" fill="#f23645"/>
<rect x="185" y="419" width="3" height="32" fill="#f23645"/>
<rect x="190" y="410" width="1" height="45" fill="#089981"/>
<rect x="189" y="410" width="3" height="41" fill="#089981"/>
<rect x="194" y="381" width="1" height="81" fill="#f23645"/>
<rect x="193" y="409" width="3" height="29" fill="#f23645"/>
<rect x="198" y="403" width="1" height="49" fill="#089981"/>
<rect x="197" y="417" width="3" height="23" fill="#089981"/>
<rect x="202" y="393" width="1" height="36" fill="#089981"/>
<rect x="201" y="394" width="3" height="24" fill="#089981"/>
<rect x="206" y="393" width="1" height="18" fill="#f23645"/>
<rect x="205" y="395" width="3" height="16" fill="#f23645"/>
<rect x="210" y="373" width="1" height="60" fill="#089981"/>
<rect x="209" y="377" width="3" height="36" fill="#089981"/>
<rect x="214" y="365" width="1" height="29" fill="#089981"/>
<rect x="213" y="367" width="3" height="8" fill="#089981"/>
<rect x="218" y="367" width="1" height="37" fill="#f23645"/>
<rect x="217" y="367" width="3" height="27" fill="#f23645"/>
<rect x="222" y="382" width="1" height="24" fill="#089981"/>
<rect x="221" y="393" width="3" height="1" fill="#089981"/>
<rect x="226" y="374" width="1" height="23" fill="#089981"/>
<rect x="225" y="374" width="3" height="23" fill="#089981"/>
<rect x="230" y="363" width="1" height="25" fill="#f23645"/>
<rect x="229" y="376" width="3" height="7" fill="#f23645"/>
<rect x="233" y="367" width="1" height="33" fill="#f23645"/>
<rect x="232" y="381" width="3" height="10" fill="#f23645"/>
<rect x="237" y="385" width="1" height="64" fill="#f23645"/>
<rect x="236" y="390" width="3" height="28" fill="#f23645"/>
<rect x="241" y="398" width="1" height="37" fill="#089981"/>
<rect x="240" y="414" width="3" height="4" fill="#089981"/>
<rect x="245" y="404" width="1" height="26" fill="#089981"/>
<rect x="244" y="414" width="3" height="2" fill="#089981"/>
<rect x="249" y="381" width="1" height="40" fill="#089981"/>
<rect x="248" y="386" width="3" height="30" fill="#089981"/>
<rect x="253" y="376" width="1" height="45" fill="#f23645"/>
<rect x="252" y="387" width="3" height="33" fill="#f23645"/>
<rect x="257" y="381" width="1" height="42" fill="#089981"/>
<rect x="256" y="383" width="3" height="40" fill="#089981"/>
<rect x="261" y="380" width="1" height="12" fill="#f23645"/>
<rect x="260" y="382" width="3" height="7" fill="#f23645"/>
<rect x="265" y="346" width="1" height="43" fill="#089981"/>
<rect x="264" y="367" width="3" height="22" fill="#089981"/>
<rect x="269" y="363" width="1" height="17" fill="#f23645"/>
<rect x="268" y="367" width="3" height="6" fill="#f23645"/>
<rect x="273" y="371" width="1" height="8" fill="#f23645"/>
<rect x="272" y="372" width="3" height="4" fill="#f23645"/>
<rect x="276" y="354" width="1" height="21" fill="#089981"/>
<rect x="275" y="361" width="3" height="14" fill="#089981"/>
<rect x="280" y="345" width="1" height="22" fill="#089981"/>
<rect x="279" y="362" width="3" height="1" fill="#089981"/>
<rect x="284" y="334" width="1" height="28" fill="#089981"/>
<rect x="283" y="347" width="3" height="15" fill="#089981"/>
<rect x="288" y="296" width="1" height="59" fill="#089981"/>
<rect x="287" y="304" width="3" height="44" fill="#089981"/>
<rect x="292" y="280" width="1" height="30" fill="#089981"/>
<rect x="291" y="297" width="3" height="13" fill="#089981"/>
<rect x="296" y="287" width="1" height="24" fill="#f23645"/>
<rect x="295" y="297" width="3" height="14" fill="#f23645"/>
<rect x="300" y="298" width="1" height="20" fill="#089981"/>
<rect x="299" y="298" width="3" height="13" fill="#089981"/>
<rect x="304" y="292" width="1" height="41" fill="#f23645"/>
<rect x="303" y="298" width="3" height="23" fill="#f23645"/>
<rect x="308" y="314" width="1" height="18" fill="#f23645"/>
<rect x="307" y="320" width="3" height="11" fill="#f23645"/>
<rect x="312" y="317" width="1" height="21" fill="#089981"/>
<rect x="311" y="327" width="3" height="3" fill="#089981"/>
<rect x="316" y="320" width="1" height="58" fill="#f23645"/>
<rect x="315" y="328" width="3" height="50" fill="#f23645"/>
<rect x="319" y="373" width="1" height="27" fill="#f23645"/>
<rect x="318" y="376" width="3" height="24" fill="#f23645"/>
<rect x="323" y="389" width="1" height="50" fill="#f23645"/>
<rect x="322" y="400" width="3" height="33" fill="#f23645"/>
<rect x="327" y="368" width="1" height="89" fill="#089981"/>
<rect x="326" y="368" width="3" height="68" fill="#089981"/>
<rect x="331" y="358" width="1" height="45" fill="#f23645"/>
<rect x="330" y="368" width="3" height="34" fill="#f23645"/>
<rect x="335" y="363" width="1" height="78" fill="#f23645"/>
<rect x="334" y="399" width="3" height="42" fill="#f23645"/>
<rect x="339" y="397" width="1" height="62" fill="#089981"/>
<rect x="338" y="412" width="3" height="27" fill="#089981"/>
<rect x="343" y="414" width="1" height="41" fill="#f23645"/>
<rect x="342" y="414" width="3" height="12" fill="#f23645"/>
<rect x="347" y="401" width="1" height="30" fill="#089981"/>
<rect x="346" y="410" width="3" height="16" fill="#089981"/>
<rect x="351" y="410" width="1" height="26" fill="#f23645"/>
<rect x="350" y="410" width="3" height="10" fill="#f23645"/>
<rect x="355" y="416" width="1" height="14" fill="#f23645"/>
<rect x="354" y="419" width="3" height="11" fill="#f23645"/>
<rect x="359" y="412" width="1" height="23" fill="#f23645"/>
<rect x="358" y="430" width="3" height="5" fill="#f23645"/>
<rect x="363" y="421" width="1" height="14" fill="#089981"/>
<rect x="362" y="421" width="3" height="14" fill="#089981"/>
<rect x="366" y="413" width="1" height="17" fill="#089981"/>
<rect x="365" y="416" width="3" height="7" fill="#089981"/>
<rect x="370" y="411" width="1" height="10" fill="#089981"/>
<rect x="369" y="413" width="3" height="4" fill="#089981"/>
<rect x="374" y="400" width="1" height="19" fill="#f23645"/>
<rect x="373" y="413" width="3" height="1" fill="#f23645"/>
<rect x="378" y="377" width="1" height="65" fill="#089981"/>
<rect x="377" y="410" width="3" height="5" fill="#089981"/>
<rect x="382" y="395" width="1" height="19" fill="#089981"/>
<rect x="381" y="398" width="3" height="10" fill="#089981"/>
<rect x="386" y="397" width="1" height="34" fill="#f23645"/>
<rect x="385" y="397" width="3" height="19" fill="#f23645"/>
<rect x="390" y="399" width="1" height="21" fill="#089981"/>
<rect x="389" y="400" width="3" height="20" fill="#089981"/>
<rect x="394" y="364" width="1" height="37" fill="#089981"/>
<rect x="393" y="365" width="3" height="36" fill="#089981"/>
<rect x="398" y="336" width="1" height="33" fill="#089981"/>
<rect x="397" y="336" width="3" height="32" fill="#089981"/>
<rect x="402" y="316" width="1" height="24" fill="#089981"/>
<rect x="401" y="320" width="3" height="20" fill="#089981"/>
<rect x="406" y="309" width="1" height="20" fill="#f23645"/>
<rect x="405" y="319" width="3" height="5" fill="#f23645"/>
<rect x="409" y="321" width="1" height="26" fill="#f23645"/>
<rect x="408" y="324" width="3" height="9" fill="#f23645"/>
<rect x="413" y="312" width="1" height="21" fill="#089981"/>
<rect x="412" y="328" width="3" height="5" fill="#089981"/>
<rect x="417" y="318" width="1" height="22" fill="#f23645"/>
<rect x="416" y="328" width="3" height="5" fill="#f23645"/>
<rect x="421" y="257" width="1" height="80" fill="#089981"/>
<rect x="420" y="270" width="3" height="63" fill="#089981"/>
<rect x="425" y="227" width="1" height="51" fill="#089981"/>
<rect x="424" y="245" width="3" height="25" fill="#089981"/>
<rect x="429" y="222" width="1" height="81" fill="#f23645"/>
<rect x="428" y="239" width="3" height="58" fill="#f23645"/>
<rect x="433" y="230" width="1" height="75" fill="#089981"/>
<rect x="432" y="236" width="3" height="61" fill="#089981"/>
<rect x="437" y="234" width="1" height="30" fill="#089981"/>
<rect x="436" y="236" width="3" height="5" fill="#089981"/>
<rect x="441" y="212" width="1" height="32" fill="#089981"/>
<rect x="440" y="235" width="3" height="1" fill="#089981"/>
<rect x="445" y="213" width="1" height="32" fill="#089981"/>
<rect x="444" y="228" width="3" height="6" fill="#089981"/>
<rect x="449" y="220" width="1" height="17" fill="#089981"/>
<rect x="448" y="222" width="3" height="6" fill="#089981"/>
<rect x="452" y="221" width="1" height="23" fill="#f23645"/>
<rect x="451" y="224" width="3" height="10" fill="#f23645"/>
<rect x="456" y="223" width="1" height="22" fill="#f23645"/>
<rect x="455" y="230" width="3" height="15" fill="#f23645"/>
<rect x="460" y="237" width="1" height="13" fill="#f23645"/>
<rect x="459" y="240" width="3" height="10" fill="#f23645"/>
<rect x="464" y="236" width="1" height="14" fill="#089981"/>
<rect x="463" y="248" width="3" height="1" fill="#089981"/>
<rect x="468" y="247" width="1" height="16" fill="#f23645"/>
<rect x="467" y="247" width="3" height="1" fill="#f23645"/>
<rect x="472" y="236" width="1" height="19" fill="#089981"/>
<rect x="471" y="239" width="3" height="9" fill="#089981"/>
<rect x="476" y="232" width="1" height="17" fill="#f23645"/>
<rect x="475" y="239" width="3" height="9" fill="#f23645"/>
<rect x="480" y="234" width="1" height="16" fill="#089981"/>
<rect x="479" y="239" width="3" height="9" fill="#089981"/>
<rect x="484" y="234" width="1" height="15" fill="#f23645"/>
<rect x="483" y="239" width="3" height="6" fill="#f23645"/>
<rect x="488" y="232" width="1" height="16" fill="#089981"/>
<rect x="487" y="234" width="3" height="10" fill="#089981"/>
<rect x="492" y="231" width="1" height="14" fill="#089981"/>
<rect x="491" y="232" width="3" height="1" fill="#089981"/>
<rect x="495" y="226" width="1" height="13" fill="#089981"/>
<rect x="494" y="230" width="3" height="9" fill="#089981"/>
<rect x="499" y="225" width="1" height="15" fill="#089981"/>
<rect x="498" y="229" width="3" height="2" fill="#089981"/>
<rect x="503" y="225" width="1" height="9" fill="#089981"/>
<rect x="502" y="229" width="3" height="2" fill="#089981"/>
<rect x="507" y="225" width="1" height="19" fill="#f23645"/>
<rect x="506" y="228" width="3" height="13" fill="#f23645"/>
<rect x="511" y="230" width="1" height="15" fill="#f23645"/>
<rect x="510" y="241" width="3" height="3" fill="#f23645"/>
<rect x="515" y="242" width="1" height="7" fill="#f23645"/>
<rect x="514" y="246" width="3" height="3" fill="#f23645"/>
<rect x="519" y="235" width="1" height="20" fill="#089981"/>
<rect x="518" y="241" width="3" height="8" fill="#089981"/>
<rect x="523" y="236" width="1" height="9" fill="#089981"/>
<rect x="522" y="239" width="3" height="2" fill="#089981"/>
<rect x="527" y="229" width="1" height="17" fill="#f23645"/>
<rect x="526" y="239" width="3" height="7" fill="#f23645"/>
<rect x="531" y="231" width="1" height="17" fill="#089981"/>
<rect x="530" y="237" width="3" height="9" fill="#089981"/>
<rect x="535" y="238" width="1" height="14" fill="#f23645"/>
<rect x="534" y="239" width="3" height="11" fill="#f23645"/>
<rect x="539" y="237" width="1" height="14" fill="#089981"/>
<rect x="538" y="245" width="3" height="5" fill="#089981"/>
<rect x="542" y="239" width="1" height="10" fill="#089981"/>
<rect x="541" y="246" width="3" height="2" fill="#089981"/>
<rect x="546" y="243" width="1" height="5" fill="#089981"/>
<rect x="545" y="244" width="3" height="4" fill="#089981"/>
<rect x="550" y="243" width="1" height="8" fill="#f23645"/>
<rect x="549" y="243" width="3" height="8" fill="#f23645"/>
<rect x="554" y="238" width="1" height="13" fill="#089981"/>
<rect x="553" y="240" width="3" height="11" fill="#089981"/>
<rect x="558" y="238" width="1" height="11" fill="#f23645"/>
<rect x="557" y="240" width="3" height="7" fill="#f23645"/>
<rect x="562" y="242" width="1" height="10" fill="#089981"/>
<rect x="561" y="244" width="3" height="6" fill="#089981"/>
<rect x="566" y="234" width="1" height="13" fill="#f23645"/>
<rect x="565" y="244" width="3" height="1" fill="#f23645"/>
<rect x="570" y="241" width="1" height="8" fill="#f23645"/>
<rect x="569" y="245" width="3" height="3" fill="#f23645"/>
<rect x="574" y="236" width="1" height="8" fill="#f23645"/>
<rect x="573" y="243" width="3" height="1" fill="#f23645"/>
<rect x="578" y="232" width="1" height="16" fill="#089981"/>
<rect x="577" y="237" width="3" height="8" fill="#089981"/>
<rect x="582" y="234" width="1" height="5" fill="#089981"/>
<rect x="581" y="236" width="3" height="1" fill="#089981"/>
<rect x="585" y="234" width="1" height="10" fill="#f23645"/>
<rect x="584" y="236" width="3" height="8" fill="#f23645"/>
<rect x="589" y="232" width="1" height="12" fill="#089981"/>
<rect x="588" y="234" width="3" height="10" fill="#089981"/>
<rect x="593" y="231" width="1" height="10" fill="#f23645"/>
<rect x="592" y="233" width="3" height="8" fill="#f23645"/>
<rect x="597" y="229" width="1" height="11" fill="#089981"/>
<rect x="596" y="232" width="3" height="7" fill="#089981"/>
<rect x="601" y="227" width="1" height="15" fill="#f23645"/>
<rect x="600" y="231" width="3" height="9" fill="#f23645"/>
<rect x="605" y="227" width="1" height="15" fill="#089981"/>
<rect x="604" y="229" width="3" height="12" fill="#089981"/>
<rect x="609" y="228" width="1" height="9" fill="#089981"/>
<rect x="608" y="230" width="3" height="2" fill="#089981"/>
<rect x="613" y="227" width="1" height="6" fill="#089981"/>
<rect x="612" y="228" width="3" height="5" fill="#089981"/>
<rect x="617" y="218" width="1" height="10" fill="#089981"/>
<rect x="616" y="219" width="3" height="9" fill="#089981"/>
<rect x="621" y="214" width="1" height="7" fill="#f23645"/>
<rect x="620" y="219" width="3" height="2" fill="#f23645"/>
<rect x="625" y="210" width="1" height="12" fill="#089981"/>
<rect x="624" y="216" width="3" height="6" fill="#089981"/>
<rect x="628" y="212" width="1" height="9" fill="#f23645"/>
<rect x="627" y="216" width="3" height="5" fill="#f23645"/>
<rect x="632" y="208" width="1" height="12" fill="#089981"/>
<rect x="631" y="212" width="3" height="8" fill="#089981"/>
<rect x="636" y="207" width="1" height="15" fill="#f23645"/>
<rect x="635" y="210" width="3" height="12" fill="#f23645"/>
<rect x="640" y="208" width="1" height="8" fill="#089981"/>
<rect x="639" y="210" width="3" height="5" fill="#089981"/>
<rect x="644" y="212" width="1" height="17" fill="#f23645"/>
<rect x="643" y="212" width="3" height="17" fill="#f23645"/>
<rect x="648" y="229" width="1" height="8" fill="#f23645"/>
<rect x="647" y="229" width="3" height="5" fill="#f23645"/>
<rect x="652" y="234" width="1" height="58" fill="#f23645"/>
<rect x="651" y="234" width="3" height="51" fill="#f23645"/>
<rect x="656" y="269" width="1" height="32" fill="#f23645"/>
<rect x="655" y="284" width="3" height="14" fill="#f23645"/>
<rect x="660" y="290" width="1" height="52" fill="#f23645"/>
<rect x="659" y="296" width="3" height="5" fill="#f23645"/>
<rect x="664" y="281" width="1" height="34" fill="#089981"/>
<rect x="663" y="289" width="3" height="9" fill="#089981"/>
<rect x="668" y="249" width="1" height="43" fill="#089981"/>
<rect x="667" y="274" width="3" height="14" fill="#089981"/>
<rect x="672" y="271" width="1" height="14" fill="#f23645"/>
<rect x="671" y="274" width="3" height="6" fill="#f23645"/>
<rect x="675" y="268" width="1" height="13" fill="#089981"/>
<rect x="674" y="270" width="3" height="8" fill="#089981"/>
<rect x="679" y="257" width="1" height="29" fill="#f23645"/>
<rect x="678" y="270" width="3" height="10" fill="#f23645"/>
<rect x="683" y="282" width="1" height="22" fill="#f23645"/>
<rect x="682" y="285" width="3" height="19" fill="#f23645"/>
<rect x="687" y="303" width="1" height="15" fill="#f23645"/>
<rect x="686" y="303" width="3" height="9" fill="#f23645"/>
<rect x="691" y="293" width="1" height="24" fill="#f23645"/>
<rect x="690" y="303" width="3" height="11" fill="#f23645"/>
<rect x="695" y="306" width="1" height="28" fill="#f23645"/>
<rect x="694" y="307" width="3" height="18" fill="#f23645"/>
<rect x="699" y="309" width="1" height="14" fill="#089981"/>
<rect x="698" y="315" width="3" height="7" fill="#089981"/>
<rect x="703" y="311" width="1" height="8" fill="#089981"/>
<rect x="702" y="312" width="3" height="3" fill="#089981"/>
<rect x="707" y="303" width="1" height="26" fill="#089981"/>
<rect x="706" y="304" width="3" height="9" fill="#089981"/>
<rect x="711" y="298" width="1" height="21" fill="#089981"/>
<rect x="710" y="298" width="3" height="7" fill="#089981"/>
<rect x="715" y="287" width="1" height="18" fill="#f23645"/>
<rect x="714" y="297" width="3" height="8" fill="#f23645"/>
<rect x="718" y="291" width="1" height="15" fill="#f23645"/>
<rect x="717" y="297" width="3" height="7" fill="#f23645"/>
<rect x="722" y="279" width="1" height="25" fill="#089981"/>
<rect x="721" y="283" width="3" height="21" fill="#089981"/>
<rect x="726" y="279" width="1" height="9" fill="#f23645"/>
<rect x="725" y="284" width="3" height="2" fill="#f23645"/>
<rect x="730" y="280" width="1" height="6" fill="#089981"/>
<rect x="729" y="280" width="3" height="6" fill="#089981"/>
<rect x="734" y="279" width="1" height="11" fill="#089981"/>
<rect x="733" y="279" width="3" height="1" fill="#089981"/>
<rect x="738" y="277" width="1" height="10" fill="#f23645"/>
<rect x="737" y="279" width="3" height="6" fill="#f23645"/>
<rect x="742" y="278" width="1" height="7" fill="#089981"/>
<rect x="741" y="279" width="3" height="6" fill="#089981"/>
<rect x="746" y="267" width="1" height="14" fill="#089981"/>
<rect x="745" y="267" width="3" height="13" fill="#089981"/>
<rect x="750" y="262" width="1" height="10" fill="#f23645"/>
<rect x="749" y="267" width="3" height="5" fill="#f23645"/>
<rect x="754" y="256" width="1" height="23" fill="#f23645"/>
<rect x="753" y="271" width="3" height="4" fill="#f23645"/>
<rect x="758" y="266" width="1" height="47" fill="#f23645"/>
<rect x="757" y="271" width="3" height="37" fill="#f23645"/>
<rect x="761" y="273" width="1" height="30" fill="#089981"/>
<rect x="760" y="274" width="3" height="29" fill="#089981"/>
<rect x="765" y="261" width="1" height="19" fill="#f23645"/>
<rect x="764" y="274" width="3" height="6" fill="#f23645"/>
<rect x="769" y="278" width="1" height="35" fill="#f23645"/>
<rect x="768" y="281" width="3" height="32" fill="#f23645"/>
<rect x="773" y="311" width="1" height="50" fill="#f23645"/>
<rect x="772" y="311" width="3" height="30" fill="#f23645"/>
<rect x="777" y="332" width="1" height="58" fill="#f23645"/>
<rect x="776" y="340" width="3" height="41" fill="#f23645"/>
<rect x="781" y="372" width="1" height="53" fill="#f23645"/>
<rect x="780" y="381" width="3" height="37" fill="#f23645"/>
<rect x="785" y="380" width="1" height="36" fill="#f23645"/>
<rect x="784" y="415" width="3" height="1" fill="#f23645"/>
<rect x="789" y="388" width="1" height="37" fill="#f23645"/>
<rect x="788" y="414" width="3" height="6" fill="#f23645"/>
<rect x="793" y="409" width="1" height="23" fill="#f23645"/>
<rect x="792" y="419" width="3" height="8" fill="#f23645"/>
<rect x="797" y="413" width="1" height="36" fill="#f23645"/>
<rect x="796" y="428" width="3" height="13" fill="#f23645"/>
<rect x="801" y="416" width="1" height="26" fill="#089981"/>
<rect x="800" y="427" width="3" height="14" fill="#089981"/>
<rect x="805" y="400" width="1" height="36" fill="#f23645"/>
<rect x="804" y="426" width="3" height="3" fill="#f23645"/>
<rect x="808" y="403" width="1" height="44" fill="#089981"/>
<rect x="807" y="410" width="3" height="17" fill="#089981"/>
<rect x="812" y="404" width="1" height="33" fill="#f23645"/>
<rect x="811" y="412" width="3" height="19" fill="#f23645"/>
<rect x="816" y="419" width="1" height="12" fill="#089981"/>
<rect x="815" y="422" width="3" height="9" fill="#089981"/>
<rect x="820" y="403" width="1" height="19" fill="#089981"/>
<rect x="819" y="412" width="3" height="10" fill="#089981"/>
<rect x="824" y="400" width="1" height="18" fill="#089981"/>
<rect x="823" y="402" width="3" height="11" fill="#089981"/>
<rect x="828" y="389" width="1" height="12" fill="#089981"/>
<rect x="827" y="398" width="3" height="3" fill="#089981"/>
<rect x="832" y="398" width="1" height="15" fill="#f23645"/>
<rect x="831" y="398" width="3" height="15" fill="#f23645"/>
<rect x="836" y="409" width="1" height="6" fill="#f23645"/>
<rect x="835" y="412" width="3" height="3" fill="#f23645"/>
<rect x="840" y="395" width="1" height="21" fill="#089981"/>
<rect x="839" y="401" width="3" height="15" fill="#089981"/>
<rect x="844" y="381" width="1" height="31" fill="#089981"/>
<rect x="843" y="386" width="3" height="18" fill="#089981"/>
<rect x="848" y="366" width="1" height="19" fill="#089981"/>
<rect x="847" y="384" width="3" height="1" fill="#089981"/>
<rect x="851" y="383" width="1" height="27" fill="#f23645"/>
<rect x="850" y="387" width="3" height="17" fill="#f23645"/>
<rect x="855" y="375" width="1" height="36" fill="#089981"/>
<rect x="854" y="402" width="3" height="4" fill="#089981"/>
<rect x="859" y="391" width="1" height="40" fill="#f23645"/>
<rect x="858" y="401" width="3" height="16" fill="#f23645"/>
<rect x="863" y="416" width="1" height="15" fill="#f23645"/>
<rect x="862" y="416" width="3" height="10" fill="#f23645"/>
<rect x="867" y="378" width="1" height="51" fill="#089981"/>
<rect x="866" y="393" width="3" height="34" fill="#089981"/>
<rect x="871" y="386" width="1" height="28" fill="#f23645"/>
<rect x="870" y="387" width="3" height="2" fill="#f23645"/>
<rect x="875" y="346" width="1" height="46" fill="#089981"/>
<rect x="874" y="351" width="3" height="38" fill="#089981"/>
<rect x="879" y="341" width="1" height="22" fill="#089981"/>
<rect x="878" y="343" width="3" height="6" fill="#089981"/>
<rect x="883" y="333" width="1" height="17" fill="#089981"/>
<rect x="882" y="333" width="3" height="12" fill="#089981"/>
<rect x="887" y="333" width="1" height="43" fill="#f23645"/>
<rect x="886" y="334" width="3" height="36" fill="#f23645"/>
<rect x="891" y="362" width="1" height="19" fill="#f23645"/>
<rect x="890" y="368" width="3" height="7" fill="#f23645"/>
<rect x="894" y="368" width="1" height="21" fill="#089981"/>
<rect x="893" y="372" width="3" height="2" fill="#089981"/>
<rect x="898" y="363" width="1" height="46" fill="#f23645"/>
<rect x="897" y="371" width="3" height="22" fill="#f23645"/>
<rect x="902" y="381" width="1" height="24" fill="#f23645"/>
<rect x="901" y="392" width="3" height="10" fill="#f23645"/>
<rect x="906" y="397" width="1" height="28" fill="#f23645"/>
<rect x="905" y="401" width="3" height="18" fill="#f23645"/>
<rect x="910" y="408" width="1" height="29" fill="#f23645"/>
<rect x="909" y="422" width="3" height="9" fill="#f23645"/>
<rect x="914" y="411" width="1" height="21" fill="#089981"/>
<rect x="913" y="417" width="3" height="13" fill="#089981"/>
<rect x="918" y="399" width="1" height="19" fill="#089981"/>
<rect x="917" y="402" width="3" height="16" fill="#089981"/>
<rect x="922" y="399" width="1" height="28" fill="#f23645"/>
<rect x="921" y="402" width="3" height="18" fill="#f23645"/>
<rect x="926" y="417" width="1" height="54" fill="#f23645"/>
<rect x="925" y="417" width="3" height="33" fill="#f23645"/>
<rect x="930" y="444" width="1" height="10" fill="#f23645"/>
<rect x="929" y="448" width="3" height="1" fill="#f23645"/>
<rect x="934" y="426" width="1" height="29" fill="#089981"/>
<rect x="933" y="447" width="3" height="3" fill="#089981"/>
<rect x="937" y="447" width="1" height="102" fill="#f23645"/>
<rect x="936" y="448" width="3" height="80" fill="#f23645"/>
<rect x="941" y="502" width="1" height="42" fill="#089981"/>
<rect x="940" y="513" width="3" height="15" fill="#089981"/>
<rect x="945" y="510" width="1" height="59" fill="#f23645"/>
<rect x="944" y="512" width="3" height="8" fill="#f23645"/>
<rect x="949" y="487" width="1" height="37" fill="#089981"/>
<rect x="948" y="497" width="3" height="23" fill="#089981"/>
<rect x="953" y="472" width="1" height="33" fill="#089981"/>
<rect x="952" y="487" width="3" height="12" fill="#089981"/>
<rect x="957" y="483" width="1" height="18" fill="#f23645"/>
<rect x="956" y="486" width="3" height="14" fill="#f23645"/>
<rect x="961" y="491" width="1" height="20" fill="#089981"/>
<rect x="960" y="494" width="3" height="9" fill="#089981"/>
<rect x="965" y="479" width="1" height="28" fill="#f23645"/>
<rect x="964" y="493" width="3" height="3" fill="#f23645"/>
</g>
</g>
<text style="font-size:17.6px"><tspan x="16.00" y="28.30" textLength="75.75" lengthAdjust="spacingAndGlyphs">Published</tspan> <tspan x="97.75" y="28.30" textLength="19.50" lengthAdjust="spacingAndGlyphs">on</tspan> <tspan x="123.25" y="28.30" textLength="141.05" lengthAdjust="spacingAndGlyphs">TradingView.com,</tspan> <tspan x="270.25" y="28.30" textLength="31.50" lengthAdjust="spacingAndGlyphs">May</tspan> <tspan x="307.00" y="28.30" textLength="25.00" lengthAdjust="spacingAndGlyphs">29,</tspan> <tspan x="337.75" y="28.30" textLength="37.50" lengthAdjust="spacingAndGlyphs">2025</tspan> <tspan x="380.75" y="28.30" textLength="43.50" lengthAdjust="spacingAndGlyphs">06:47</tspan> <tspan x="430.75" y="28.30" textLength="32.75" lengthAdjust="spacingAndGlyphs">UTC</tspan></text>
<text><tspan x="27.00" y="69.80" textLength="52.00" lengthAdjust="spacingAndGlyphs">Tether</tspan> <tspan x="83.50" y="69.80" textLength="98.75" lengthAdjust="spacingAndGlyphs">Gold/Tether</tspan> <tspan x="188.20" y="69.30" class="d">·</tspan> <tspan x="199.50" y="69.80" textLength="19.75" lengthAdjust="spacingAndGlyphs">1h</tspan> <tspan x="224.70" y="69.30" class="d">·</tspan> <tspan x="236.00" y="69.80" textLength="33.00" lengthAdjust="spacingAndGlyphs">OKX</tspan> <tspan x="280.25" y="69.80" textLength="13.25" lengthAdjust="spacingAndGlyphs">O</tspan> <tspan x="292.25" y="69.80" textLength="60.75" lengthAdjust="spacingAndGlyphs" class="r">3,274.2</tspan> <tspan x="363.25" y="69.80" textLength="12.25" lengthAdjust="spacingAndGlyphs">H</tspan> <tspan x="375.25" y="69.80" textLength="60.75" lengthAdjust="spacingAndGlyphs" class="r">3,278.5</tspan> <tspan x="447.00" y="69.80" textLength="9.00" lengthAdjust="spacingAndGlyphs">L</tspan> <tspan x="455.25" y="69.80" textLength="61.25" lengthAdjust="spacingAndGlyphs" class="r">3,269.8</tspan> <tspan x="526.50" y="69.80" textLength="11.25" lengthAdjust="spacingAndGlyphs">C</tspan> <tspan x="537.00" y="69.80" textLength="62.00" lengthAdjust="spacingAndGlyphs" class="r">3,273.4</tspan> <tspan x="609.00" y="69.80" textLength="35.75" lengthAdjust="spacingAndGlyphs" class="r">−0.4</tspan> <tspan x="649.75" y="69.80" textLength="68.25" lengthAdjust="spacingAndGlyphs" class="r">(−0.01%)</tspan></text>
<text><tspan x="27.00" y="95.80" textLength="24.00" lengthAdjust="spacingAndGlyphs">Vol</tspan> <tspan x="57.00" y="95.30" class="d">·</tspan> <tspan x="67.75" y="95.80" textLength="43.75" lengthAdjust="spacingAndGlyphs">XAUT</tspan> <tspan x="122.75" y="95.80" textLength="19.00" lengthAdjust="spacingAndGlyphs" class="v">16</tspan></text>
<text x="1040.90" y="103.70" textLength="61.00" lengthAdjust="spacingAndGlyphs">3,400.0</text>
<text x="1040.90" y="166.38" textLength="61.00" lengthAdjust="spacingAndGlyphs">3,380.0</text>
<text x="1040.90" y="229.06" textLength="61.00" lengthAdjust="spacingAndGlyphs">3,360.0</text>
<text x="1040.90" y="291.74" textLength="61.00" lengthAdjust="spacingAndGlyphs">3,340.0</text>
<text x="1040.90" y="354.42" textLength="61.00" lengthAdjust="spacingAndGlyphs">3,320.0</text>
<text x="1040.90" y="417.10" textLength="61.00" lengthAdjust="spacingAndGlyphs">3,300.0</text>
<text x="1040.90" y="479.78" textLength="61.00" lengthAdjust="spacingAndGlyphs">3,280.0</text>
<text x="1040.90" y="542.46" textLength="61.00" lengthAdjust="spacingAndGlyphs">3,260.0</text>
<text x="1040.90" y="605.14" textLength="61.00" lengthAdjust="spacingAndGlyphs">3,240.0</text>
<text x="1040.90" y="667.82" textLength="61.00" lengthAdjust="spacingAndGlyphs">3,220.0</text>
<path d="M1030 482h77.5a2.5 2.5 0 0 1 2.5 2.5v22a2.5 2.5 0 0 1-2.5 2.5h-77.5z" fill="#f23645"/>
<path d="M1030 686h35.5a2.5 2.5 0 0 1 2.5 2.5v22a2.5 2.5 0 0 1-2.5 2.5h-35.5z" fill="#ef5350"/>
<text x="1041.10" y="501.00" textLength="60.60" lengthAdjust="spacingAndGlyphs" class="w">3,273.4</text>
<text x="1041.20" y="706.00" textLength="19.40" lengthAdjust="spacingAndGlyphs" class="wb">16</text>
<text x="87.10" y="749.80" textLength="19.60" lengthAdjust="spacingAndGlyphs">20</text>
<text x="180.10" y="749.80" textLength="19.60" lengthAdjust="spacingAndGlyphs">21</text>
<text x="274.10" y="749.80" textLength="19.60" lengthAdjust="spacingAndGlyphs">22</text>
<text x="368.10" y="749.80" textLength="19.60" lengthAdjust="spacingAndGlyphs">23</text>
<text x="462.10" y="749.80" textLength="19.60" lengthAdjust="spacingAndGlyphs">24</text>
<text x="556.10" y="749.80" textLength="19.60" lengthAdjust="spacingAndGlyphs">25</text>
<text x="650.30" y="749.80" textLength="19.60" lengthAdjust="spacingAndGlyphs" class="b">26</text>
<text x="744.10" y="749.80" textLength="19.60" lengthAdjust="spacingAndGlyphs">27</text>
<text x="838.10" y="749.80" textLength="19.60" lengthAdjust="spacingAndGlyphs">28</text>
<text x="931.10" y="749.80" textLength="19.60" lengthAdjust="spacingAndGlyphs">29</text>
<g transform="translate(14.8 779) scale(0.823)" fill="#111114"><path d="M14 22H7V11H0V4h14v18zM28 22h-8l7.5-18h8L28 22z"/><circle cx="20" cy="8" r="4"/></g>
<text x="49.80" y="797.40" textLength="105.40" lengthAdjust="spacingAndGlyphs" style="font-size:19.4px">TradingView</text>
</svg></body></html>
